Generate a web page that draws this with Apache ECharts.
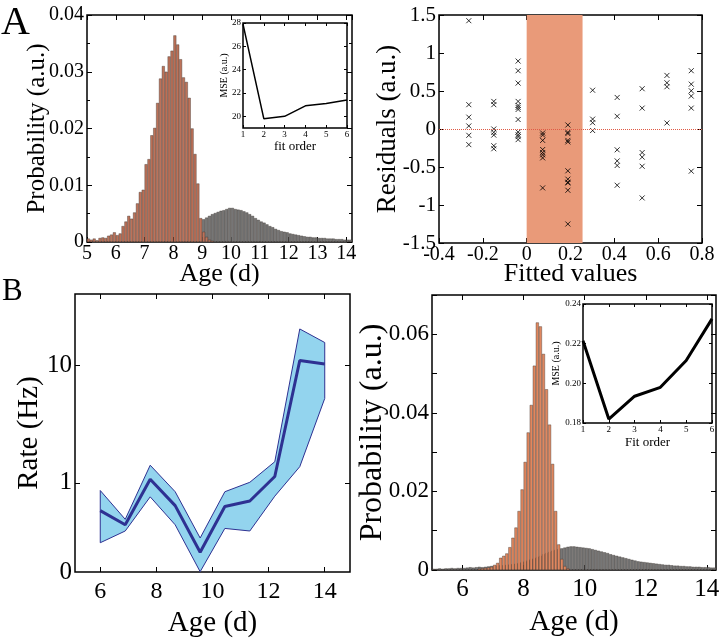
<!DOCTYPE html>
<html>
<head>
<meta charset="utf-8">
<script src="https://cdn.jsdelivr.net/npm/echarts@6/dist/echarts.min.js"></script>
<style>
  html, body { margin: 0; padding: 0; background: #fff; }
  #chart { width: 725px; height: 642px; }
</style>
</head>
<body>
<div id="chart"></div>
<script>
// ---- panel A, left: age histogram (younger population in orange, older in grey)
const aYoungAge = [5.05, 5.15, 5.25, 5.35, 5.45, 5.55, 5.65, 5.75, 5.85, 5.95,
  6.05, 6.15, 6.25, 6.35, 6.45, 6.55, 6.65, 6.75, 6.85, 6.95,
  7.05, 7.15, 7.25, 7.35, 7.45, 7.55, 7.65, 7.75, 7.85, 7.95,
  8.05, 8.15, 8.25, 8.35, 8.45, 8.55, 8.65, 8.75, 8.85, 8.95,
  9.05, 9.15, 9.25, 9.35];
const aYoungProb = [0.0006, 0.0004, 0.0006, 0.0003, 0.0007, 0.0008, 0.0007, 0.0011, 0.0013, 0.0017,
  0.0012, 0.0015, 0.0028, 0.0036, 0.0046, 0.0041, 0.0052, 0.0068, 0.0088, 0.0092,
  0.0137, 0.0146, 0.0188, 0.0201, 0.0245, 0.0288, 0.0310, 0.0300, 0.0327, 0.0337,
  0.0364, 0.0348, 0.0322, 0.0290, 0.0282, 0.0254, 0.0200, 0.0155, 0.0103, 0.0042,
  0.0018, 0.0009, 0.0004, 0.0002];
const aOldAge = [9.05, 9.15, 9.25, 9.35, 9.45, 9.55, 9.65, 9.75, 9.85, 9.95,
  10.05, 10.15, 10.25, 10.35, 10.45, 10.55, 10.65, 10.75, 10.85, 10.95,
  11.05, 11.15, 11.25, 11.35, 11.45, 11.55, 11.65, 11.75, 11.85, 11.95,
  12.05, 12.15, 12.25, 12.35, 12.45, 12.55, 12.65, 12.75, 12.85, 12.95,
  13.05, 13.15, 13.25, 13.35, 13.45, 13.55, 13.65, 13.75, 13.85, 13.95,
  14.05, 14.15];
const aOldProb = [0.0040, 0.0043, 0.0046, 0.0049, 0.0051, 0.0053, 0.0055, 0.0056, 0.0058, 0.0060,
  0.0060, 0.0058, 0.0057, 0.0056, 0.0054, 0.0052, 0.0049, 0.0046, 0.0042, 0.0039,
  0.0036, 0.0034, 0.0031, 0.0028, 0.0026, 0.0023, 0.0021, 0.0019, 0.0018, 0.0017,
  0.0015, 0.0014, 0.0013, 0.0012, 0.0011, 0.0010, 0.0009, 0.0009, 0.0008, 0.0008,
  0.0007, 0.0007, 0.0007, 0.0006, 0.0006, 0.0006, 0.0005, 0.0005, 0.0005, 0.0004,
  0.0004, 0.0004];

// inset A: MSE vs fit order
const aFitOrder = [1, 2, 3, 4, 5, 6];
const aMse = [27.9, 19.8, 20.0, 20.9, 21.1, 21.4];
const aMseTicks = [20, 22, 24, 26, 28];

// ---- panel A, right: residuals, grouped by fitted value
const resFitted = [-0.264, -0.15, -0.039, 0.073, 0.188, 0.301, 0.413, 0.527, 0.64, 0.751];
const resGroups = [
  [1.425, 0.32, 0.156, 0.04, -0.083, -0.206],
  [0.363, 0.32, 0, -0.044, -0.08, -0.22, -0.26],
  [0.894, 0.767, 0.604, 0.363, 0.31, 0.284, 0.257, 0.125, -0.04, -0.075, -0.1, -0.14],
  [-0.053, -0.08, -0.15, -0.27, -0.31, -0.34, -0.38, -0.775],
  [0.053, -0.044, -0.06, -0.15, -0.17, -0.55, -0.66, -0.7, -0.71, -0.806, -1.25],
  [0.51, 0.13, 0.083, -0.02],
  [0.415, 0.167, -0.274, -0.42, -0.48, -0.74],
  [0.53, 0.275, -0.31, -0.37, -0.49, -0.907],
  [0.705, 0.608, 0.556, 0.079],
  [0.767, 0.59, 0.503, 0.433, 0.275, -0.555]
];
const resBand = [0, 0.255];

// ---- panel B, left: rate vs age (mean and band)
const rateAge = [6, 6.89, 7.78, 8.67, 9.56, 10.44, 11.33, 12.22, 13.11, 14];
const rateMean = [0.58, 0.44, 1.07, 0.64, 0.257, 0.63, 0.70, 1.13, 10.9, 10.2];
const rateHigh = [0.86, 0.49, 1.41, 0.84, 0.34, 0.84, 1.01, 1.51, 20.2, 15.5];
const rateLow = [0.31, 0.39, 0.76, 0.44, 0.176, 0.41, 0.39, 0.77, 1.37, 5.2];
const ageTicksB = [6, 8, 10, 12, 14];

// ---- panel B, right: age histogram
const bYoungAge = [6.55, 6.65, 6.75, 6.85, 6.95,
  7.05, 7.15, 7.25, 7.35, 7.45, 7.55, 7.65, 7.75, 7.85, 7.95,
  8.05, 8.15, 8.25, 8.35, 8.45, 8.55, 8.65, 8.75, 8.85, 8.95,
  9.05, 9.15, 9.25, 9.35, 9.45];
const bYoungProb = [0.0003, 0.0004, 0.0005, 0.0006, 0.0008,
  0.0013, 0.0018, 0.0031, 0.0036, 0.0042, 0.0058, 0.0082, 0.0108, 0.0150, 0.0205,
  0.0275, 0.0350, 0.0420, 0.0520, 0.0630, 0.0620, 0.0550, 0.0460, 0.0370, 0.0270,
  0.0150, 0.0065, 0.0028, 0.0010, 0.0004];
const bOldAge = [5.05, 5.15, 5.25, 5.35, 5.45, 5.55, 5.65, 5.75, 5.85, 5.95,
  6.05, 6.15, 6.25, 6.35, 6.45, 6.55, 6.65, 6.75, 6.85, 6.95,
  7.05, 7.15, 7.25, 7.35, 7.45, 7.55, 7.65, 7.75, 7.85, 7.95,
  8.05, 8.15, 8.25, 8.35, 8.45, 8.55, 8.65, 8.75, 8.85, 8.95,
  9.05, 9.15, 9.25, 9.35, 9.45, 9.55, 9.65, 9.75, 9.85, 9.95,
  10.05, 10.15, 10.25, 10.35, 10.45, 10.55, 10.65, 10.75, 10.85, 10.95,
  11.05, 11.15, 11.25, 11.35, 11.45, 11.55, 11.65, 11.75, 11.85, 11.95,
  12.05, 12.15, 12.25, 12.35, 12.45, 12.55, 12.65, 12.75, 12.85, 12.95,
  13.05, 13.15, 13.25, 13.35, 13.45, 13.55, 13.65, 13.75, 13.85, 13.95,
  14.05, 14.15, 14.25];
const bOldProb = [0.0003, 0.0003, 0.0004, 0.0003, 0.0004, 0.0004, 0.0005, 0.0004, 0.0005, 0.0005,
  0.0005, 0.0006, 0.0007, 0.0006, 0.0007, 0.0008, 0.0007, 0.0008, 0.0009, 0.0010,
  0.0010, 0.0011, 0.0012, 0.0012, 0.0013, 0.0014, 0.0015, 0.0016, 0.0018, 0.0020,
  0.0022, 0.0025, 0.0028, 0.0030, 0.0033, 0.0036, 0.0040, 0.0043, 0.0046, 0.0049,
  0.0051, 0.0053, 0.0055, 0.0057, 0.0059, 0.0060, 0.0060, 0.0059, 0.0058, 0.0057,
  0.0056, 0.0055, 0.0053, 0.0051, 0.0049, 0.0047, 0.0045, 0.0043, 0.0040, 0.0038,
  0.0036, 0.0034, 0.0032, 0.0030, 0.0028, 0.0026, 0.0024, 0.0022, 0.0021, 0.0020,
  0.0019, 0.0018, 0.0017, 0.0016, 0.0015, 0.0014, 0.0013, 0.0013, 0.0012, 0.0011,
  0.0011, 0.0010, 0.0010, 0.0009, 0.0009, 0.0008, 0.0008, 0.0008, 0.0007, 0.0007,
  0.0007, 0.0006, 0.0006];

// inset B
const bFitOrder = [1, 2, 3, 4, 5, 6];
const bMse = [0.2215, 0.182, 0.1935, 0.198, 0.2115, 0.2325];

const FONT = 'Liberation Serif';
const ORANGE_A = '#bd7259';
const ORANGE_B = '#e0875f';
const GREY = '#767676';
const NAVY = '#2e3192';

function pairs(xs, ys) {
  return xs.map((x, i) => [x, ys[i]]);
}

function merge(a, b) {
  const out = Object.assign({}, a);
  for (const k in b) {
    if (b[k] && typeof b[k] === 'object' && !Array.isArray(b[k]) && a[k] && typeof a[k] === 'object') {
      out[k] = merge(a[k], b[k]);
    } else {
      out[k] = b[k];
    }
  }
  return out;
}

// common look of every axis: no line (grid border draws the box), inside ticks
function axis(grid, o) {
  return merge({
    type: 'value',
    gridIndex: grid,
    axisLine: { show: false, onZero: false },
    splitLine: { show: false },
    axisTick: { show: true, inside: true, length: 5, lineStyle: { color: '#000', width: 1 } },
    axisLabel: { color: '#000', fontFamily: FONT, fontSize: 21, margin: 4 },
    nameLocation: 'middle',
    nameMoveOverlap: false,
    nameTextStyle: { color: '#000', fontFamily: FONT, fontSize: 26 }
  }, o);
}

// copy of an axis on the opposite side: ticks only
function mirror(ax, pos) {
  return merge(ax, { position: pos, name: '', axisLabel: { show: false } });
}

const xMain = [
  axis(0, { min: 5, max: 14.2, interval: 1, name: 'Age (d)', nameGap: 19,
    axisLabel: { fontSize: 20, margin: 2 } }),
  axis(1, { min: 1, max: 6, interval: 1, name: 'fit order', nameGap: 12,
    axisTick: { length: 3 }, axisLabel: { fontSize: 9, margin: 2 }, nameTextStyle: { fontSize: 13 } }),
  axis(2, { min: -0.4, max: 0.8, interval: 0.2, name: 'Fitted values', nameGap: 18,
    axisLabel: { fontSize: 20, margin: 2 } }),
  axis(3, { min: 5.1, max: 14.9, name: 'Age (d)', nameGap: 37,
    axisLabel: { customValues: ageTicksB, fontSize: 24, margin: 8 }, axisTick: { customValues: ageTicksB },
    nameTextStyle: { fontSize: 29 } }),
  axis(4, { min: 5, max: 14.3, name: 'Age (d)', nameGap: 38,
    axisLabel: { customValues: ageTicksB, fontSize: 25, margin: 7 }, axisTick: { customValues: ageTicksB },
    nameTextStyle: { fontSize: 29 } }),
  axis(5, { min: 1, max: 6, interval: 1, name: 'Fit order', nameGap: 13,
    axisTick: { length: 3 }, axisLabel: { fontSize: 9, margin: 2 }, nameTextStyle: { fontSize: 13 } })
];

const yMain = [
  axis(0, { min: 0, max: 0.04, interval: 0.01, name: 'Probability (a.u.)', nameGap: 37,
    minorTick: { show: true, splitNumber: 2, length: 3, lineStyle: { color: '#000' } },
    axisLabel: { fontSize: 20, margin: 3 }, nameTextStyle: { fontSize: 25 } }),
  axis(1, { min: 19, max: 28, name: 'MSE (a.u.)', nameGap: 14,
    axisTick: { length: 3, customValues: aMseTicks },
    axisLabel: { fontSize: 9, margin: 2, customValues: aMseTicks }, nameTextStyle: { fontSize: 10 } }),
  axis(2, { min: -1.5, max: 1.5, interval: 0.5, name: 'Residuals (a.u.)', nameGap: 38,
    axisLabel: { fontSize: 21, margin: 3 }, nameTextStyle: { fontSize: 27 } }),
  axis(3, { type: 'log', logBase: 10, min: 0.175, max: 40, name: 'Rate (Hz)', nameGap: 31,
    axisLabel: { customValues: [0.1751, 1, 10], fontSize: 25, margin: 3,
      formatter: (v) => (v < 0.5 ? '0' : String(Math.round(v))) },
    axisTick: { customValues: [1, 10] }, nameTextStyle: { fontSize: 29 } }),
  axis(4, { min: 0, max: 0.07, interval: 0.01, name: 'Probability (a.u.)', nameGap: 43,
    axisLabel: { fontSize: 23, margin: 3,
      formatter: (v) => (Math.round(v * 100) % 2 === 0 ? String(+v.toFixed(2)) : '') },
    nameTextStyle: { fontSize: 32 } }),
  axis(5, { min: 0.18, max: 0.24, interval: 0.02, name: 'MSE (a.u.)', nameGap: 22,
    axisTick: { length: 3 },
    axisLabel: { fontSize: 9, margin: 2, formatter: (v) => v.toFixed(2) }, nameTextStyle: { fontSize: 10 } })
];

const xAxes = xMain.concat(xMain.map((a) => mirror(a, 'top')));
const yAxes = yMain.concat(yMain.map((a) => mirror(a, 'right')));

const box = { show: true, borderColor: '#000', borderWidth: 1.5, backgroundColor: 'transparent' };
const grids = [
  Object.assign({ left: 87, top: 15, width: 265, height: 227 }, box),
  Object.assign({ left: 243, top: 23, width: 104, height: 105 }, box),
  Object.assign({ left: 439, top: 15, width: 263, height: 228 }, box),
  Object.assign({ left: 75, top: 294, width: 275, height: 278 }, box),
  Object.assign({ left: 432, top: 295, width: 284, height: 275 }, box),
  Object.assign({ left: 583, top: 304, width: 129, height: 119 }, box)
];

function histBar(idx, xs, ys, fill, width) {
  return {
    type: 'bar', xAxisIndex: idx, yAxisIndex: idx,
    data: pairs(xs, ys), barWidth: width, barGap: '-100%',
    itemStyle: { color: fill, borderColor: '#3d3431', borderWidth: 0.4 },
    silent: true
  };
}

const resData = [];
resFitted.forEach((f, i) => resGroups[i].forEach((r) => resData.push([f, r])));

const series = [
  // A left
  histBar(0, aOldAge, aOldProb, GREY, 2.9),
  histBar(0, aYoungAge, aYoungProb, ORANGE_A, 2.9),
  // A inset
  { type: 'line', xAxisIndex: 1, yAxisIndex: 1, data: pairs(aFitOrder, aMse),
    symbol: 'none', lineStyle: { color: '#000', width: 1.5 } },
  // A right
  { type: 'scatter', xAxisIndex: 2, yAxisIndex: 2, data: resData,
    symbol: 'path://M0,0L10,10M10,0L0,10', symbolSize: 5,
    itemStyle: { color: 'transparent', borderColor: '#000', borderWidth: 1 },
    markArea: { silent: true, itemStyle: { color: '#e99a79' },
      data: [[{ xAxis: resBand[0] }, { xAxis: resBand[1] }]] },
    markLine: { silent: true, symbol: 'none', label: { show: false },
      lineStyle: { color: '#e05a45', type: 'dotted', width: 1 }, data: [{ yAxis: 0 }] } },
  // B left: band as one polygon
  { type: 'custom', xAxisIndex: 3, yAxisIndex: 3,
    data: rateAge.map((a, i) => [a, rateLow[i], rateHigh[i]]),
    renderItem: (params, api) => {
      if (params.dataIndex !== 0) return null;
      const pts = [];
      rateAge.forEach((a, i) => pts.push(api.coord([a, rateHigh[i]])));
      for (let i = rateAge.length - 1; i >= 0; i--) pts.push(api.coord([rateAge[i], rateLow[i]]));
      return { type: 'polygon', shape: { points: pts },
        style: { fill: '#93d4ee', stroke: NAVY, lineWidth: 1 } };
    } },
  { type: 'line', xAxisIndex: 3, yAxisIndex: 3, data: pairs(rateAge, rateMean),
    symbol: 'none', lineStyle: { color: NAVY, width: 3 } },
  // B right
  histBar(4, bOldAge, bOldProb, GREY, 3),
  histBar(4, bYoungAge, bYoungProb, ORANGE_B, 3),
  // B inset
  { type: 'line', xAxisIndex: 5, yAxisIndex: 5, data: pairs(bFitOrder, bMse),
    symbol: 'none', lineStyle: { color: '#000', width: 3 } }
];

const chart = echarts.init(document.getElementById('chart'), null, { renderer: 'canvas' });
chart.setOption({
  backgroundColor: '#fff',
  animation: false,
  grid: grids,
  xAxis: xAxes,
  yAxis: yAxes,
  series: series,
  graphic: [
    { type: 'text', left: 1, top: 3, style: { text: 'A', fontFamily: FONT, fontSize: 40, fill: '#000' } },
    { type: 'text', left: 2, top: 276, style: { text: 'B', fontFamily: FONT, fontSize: 31, fill: '#000' } }
  ]
});
</script>
</body>
</html>
